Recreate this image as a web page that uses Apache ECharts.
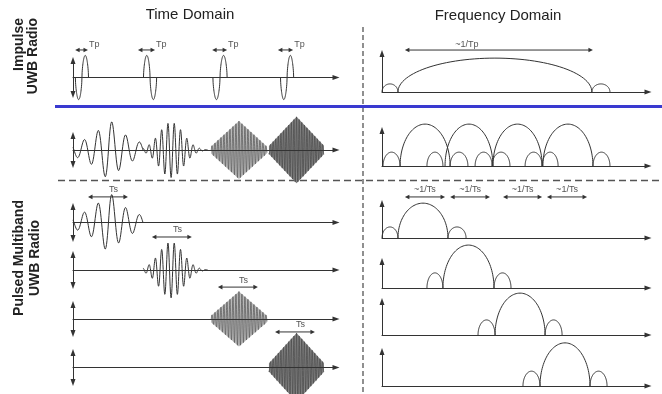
<!DOCTYPE html>
<html>
<head>
<meta charset="utf-8">
<script src="https://cdn.jsdelivr.net/npm/echarts@6/dist/echarts.min.js"></script>
<style>
  html, body { margin: 0; padding: 0; background: #fff; }
  #chart { width: 662px; height: 394px; }
</style>
</head>
<body>
<div id="chart"></div>
<script>
// ---- Impulse UWB: time axis 0–100, amplitude axis −1..1 ----
// monocycles: [centre, half width, amplitude, first lobe sign]
const impulsePulses = [[3.4, 2.5, 1.3, -1], [29.3, 2.5, 1.3, 1], [55.9, 2.7, 1.3, -1], [81.4, 2.5, 1.3, -1]];
const tpSpans = [[0.8, 5.7], [24.7, 31.2], [52.9, 58.6], [77.9, 83.7]];
const tpLevel = 1.62;
// spectrum lobes: [start, end, height]
const impulseSpectrum = [[0, 6.0, 0.21], [6.0, 78.9, 0.88], [78.9, 85.7, 0.21]];
const tpBandSpan = [8.6, 79.3];
const tpBandLevel = 1.09;

// ---- Pulsed multiband UWB ----
// sub-band pulses: [start, end, envelope centre, crest, period, spread]
const subBands = [
  [0, 26.6, 13.7, 14.8, 5.25, 8.4],
  [26.6, 51.3, 37.3, 38.5, 2.4, 4.6],
  [52.5, 73.8, 63.1, 63.1, 1.14, 10.6],
  [74.5, 95.4, 85.0, 85.0, 0.99, 10.5]
];
const combinedAmps = [2.2, 1.9, 2.0, 2.3];
const singleAmps = [1.98, 1.8, 1.9, 2.3];
const tsSpans = [[5.7, 20.9], [30.0, 45.2], [55.1, 70.3], [76.8, 92.0]];
const tsLevels = [1.6, 2.13, 2.2, 2.37];

const combinedMainLobes = [[6.8, 25.6], [23.7, 41.7], [41.7, 60.2], [60.5, 79.3]];
const combinedSideLobes = [[0.4, 6.8], [16.9, 22.9], [25.6, 32.3], [35.0, 41.4], [41.4, 48.1], [53.8, 60.2], [60.2, 66.2], [79.3, 85.7]];
const combinedMainHeight = 1.18;
const combinedSideHeight = 0.39;
const bandSpectra = [
  [[0, 6.0, 0.32], [6.0, 24.8, 1.01], [24.8, 31.6, 0.32]],
  [[16.9, 22.9, 0.57], [22.9, 42.1, 1.62], [42.1, 48.5, 0.57]],
  [[36.1, 42.5, 0.45], [42.5, 61.3, 1.25], [61.3, 67.7, 0.45]],
  [[53.0, 59.4, 0.43], [59.4, 78.2, 1.25], [78.2, 84.6, 0.43]]
];
const invTsSpans = [[8.6, 23.7], [25.6, 40.6], [45.5, 60.2], [62.0, 77.1]];
const invTsLevel = 1.19;

// ---- layout ----
const FONT = 'Arial, "Liberation Sans", sans-serif';
const INK = '#333';
const timeRows = [
  { top: 60.5, height: 34 }, { top: 135.5, height: 29 }, { top: 206.5, height: 32 },
  { top: 254.5, height: 31 }, { top: 304.5, height: 29 }, { top: 352.5, height: 30 }
];
const freqRows = [
  { top: 53.5, height: 38.5 }, { top: 130.5, height: 35.5 }, { top: 203.5, height: 34.5 },
  { top: 261.5, height: 26.5 }, { top: 301.5, height: 33.5 }, { top: 351.5, height: 34.5 }
];
const envelopeKinds = ['exp', 'gauss', 'tri', 'tri'];
const bandFill = [null, null, '#b9b9b9', '#858585'];
const bandStroke = ['#333', '#333', '#555', '#474747'];
const bandWidth = [1, 1, 0.7, 0.7];

const grids = [], xAxes = [], yAxes = [];
const axisLine = (symbol) => ({
  show: true, onZero: true, symbol: symbol, symbolSize: [5, 7],
  lineStyle: { color: INK, width: 1 }
});
const hidden = { axisTick: { show: false }, axisLabel: { show: false }, splitLine: { show: false } };
timeRows.forEach((r, i) => {
  grids.push({ left: 73, width: 263, top: r.top, height: r.height });
  xAxes.push(Object.assign({ gridIndex: i, type: 'value', min: 0, max: 100, z: 5, axisLine: axisLine(['none', 'triangle']) }, hidden));
  yAxes.push(Object.assign({ gridIndex: i, type: 'value', min: -1, max: 1, axisLine: axisLine(['triangle', 'triangle']) }, hidden));
});
freqRows.forEach((r, i) => {
  grids.push({ left: 382, width: 266, top: r.top, height: r.height });
  xAxes.push(Object.assign({ gridIndex: 6 + i, type: 'value', min: 0, max: 100, axisLine: axisLine(['none', 'triangle']) }, hidden));
  yAxes.push(Object.assign({ gridIndex: 6 + i, type: 'value', min: 0, max: 1, axisLine: axisLine(['none', 'triangle']) }, hidden));
});

// ---- mark renderers ----
function renderMonocycle(params, api) {
  const c = api.value(0), hw = api.value(1), a = api.value(2), s = api.value(3);
  const pts = [];
  const n = 80;
  for (let k = 0; k <= n; k++) {
    const t = k / n;
    const v = Math.sin(2 * Math.PI * t);
    const shaped = Math.sign(v) * Math.pow(Math.abs(v), 0.6);
    pts.push(api.coord([c - hw + 2 * hw * t, s * a * shaped]));
  }
  return { type: 'polyline', shape: { points: pts }, style: { stroke: INK, lineWidth: 1, fill: null } };
}

function burstRenderer(band) {
  const kind = envelopeKinds[band];
  return function (params, api) {
    const s = api.value(0), e = api.value(1), c = api.value(2), crest = api.value(3);
    const per = api.value(4), spread = api.value(5), amp = api.value(6);
    const env = (x) => {
      if (kind === 'exp') return Math.exp(-Math.abs(x - c) / spread);
      if (kind === 'gauss') return Math.exp(-0.5 * Math.pow((x - c) / spread, 2));
      return Math.max(0, 1 - 0.88 * Math.abs(x - c) / spread);
    };
    const n = Math.ceil((e - s) / per * 28);
    const wave = [], upper = [], lower = [];
    for (let k = 0; k <= n; k++) {
      const x = s + (e - s) * k / n;
      const en = amp * env(x);
      wave.push(api.coord([x, en * Math.cos(2 * Math.PI * (x - crest) / per)]));
      upper.push(api.coord([x, en]));
      lower.unshift(api.coord([x, -en]));
    }
    const children = [];
    if (bandFill[band]) {
      children.push({ type: 'polygon', shape: { points: upper.concat(lower) }, style: { fill: bandFill[band] } });
    }
    children.push({ type: 'polyline', shape: { points: wave }, style: { stroke: bandStroke[band], lineWidth: bandWidth[band], fill: null } });
    return { type: 'group', children: children };
  };
}

function renderLobe(params, api) {
  const s = api.value(0), e = api.value(1), h = api.value(2);
  const pts = [];
  const n = 60;
  for (let k = 0; k <= n; k++) {
    const th = Math.PI - Math.PI * k / n;
    pts.push(api.coord([(s + e) / 2 + (e - s) / 2 * Math.cos(th), h * Math.sin(th)]));
  }
  return { type: 'polyline', shape: { points: pts }, style: { stroke: INK, lineWidth: 1, fill: null } };
}

// double-headed span arrow with its label; where: 'after' or fraction along the span
function arrowRenderer(text, where, rise) {
  return function (params, api) {
    const a = api.coord([api.value(0), api.value(2)]);
    const b = api.coord([api.value(1), api.value(2)]);
    const y = a[1], L = 4.5, W = 2.3;
    let tx, align;
    if (where === 'after') { tx = b[0] + 1; align = 'left'; }
    else { tx = a[0] + (b[0] - a[0]) * where; align = 'center'; }
    return {
      type: 'group', children: [
        { type: 'line', shape: { x1: a[0] + L - 1, y1: y, x2: b[0] - L + 1, y2: y }, style: { stroke: INK, lineWidth: 1 } },
        { type: 'polygon', shape: { points: [[a[0], y], [a[0] + L, y - W], [a[0] + L, y + W]] }, style: { fill: INK } },
        { type: 'polygon', shape: { points: [[b[0], y], [b[0] - L, y - W], [b[0] - L, y + W]] }, style: { fill: INK } },
        { type: 'text', x: tx, y: y - rise, style: { text: text, fill: '#555', font: '9px ' + FONT, align: align, verticalAlign: 'middle' } }
      ]
    };
  };
}

const series = [];
function add(axis, renderItem, data) {
  series.push({ type: 'custom', xAxisIndex: axis, yAxisIndex: axis, renderItem: renderItem, data: data, silent: true, clip: false });
}

// impulse radio
add(0, renderMonocycle, impulsePulses);
add(0, arrowRenderer('Tp', 'after', 5), tpSpans.map(p => [p[0], p[1], tpLevel]));
add(6, renderLobe, impulseSpectrum);
add(6, arrowRenderer('~1/Tp', 0.33, 6), [[tpBandSpan[0], tpBandSpan[1], tpBandLevel]]);

// all sub-bands together
subBands.forEach((b, i) => add(1, burstRenderer(i), [b.concat([combinedAmps[i]])]));
add(7, renderLobe, combinedMainLobes.map(l => [l[0], l[1], combinedMainHeight]));
add(7, renderLobe, combinedSideLobes.map(l => [l[0], l[1], combinedSideHeight]));

// one sub-band per row
subBands.forEach((b, i) => {
  add(2 + i, burstRenderer(i), [b.concat([singleAmps[i]])]);
  add(2 + i, arrowRenderer('Ts', 0.64, 7), [[tsSpans[i][0], tsSpans[i][1], tsLevels[i]]]);
  add(8 + i, renderLobe, bandSpectra[i]);
});
add(8, arrowRenderer('~1/Ts', 0.5, 7), invTsSpans.map(p => [p[0], p[1], invTsLevel]));

const chart = echarts.init(document.getElementById('chart'), null, { renderer: 'canvas' });
chart.setOption({
  animation: false,
  backgroundColor: '#fff',
  grid: grids,
  xAxis: xAxes,
  yAxis: yAxes,
  series: series,
  graphic: [
    { type: 'text', x: 190, y: 15, style: { text: 'Time Domain', font: '15px ' + FONT, fill: '#222', align: 'center', verticalAlign: 'middle' } },
    { type: 'text', x: 498, y: 16, style: { text: 'Frequency Domain', font: '15px ' + FONT, fill: '#222', align: 'center', verticalAlign: 'middle' } },
    { type: 'text', x: 19, y: 18, rotation: Math.PI / 2, style: { text: 'Impulse', font: 'bold 14px ' + FONT, fill: '#222', align: 'right', verticalAlign: 'middle' } },
    { type: 'text', x: 33, y: 18, rotation: Math.PI / 2, style: { text: 'UWB Radio', font: 'bold 14px ' + FONT, fill: '#222', align: 'right', verticalAlign: 'middle' } },
    { type: 'text', x: 19, y: 258, rotation: Math.PI / 2, style: { text: 'Pulsed Multiband', font: 'bold 14px ' + FONT, fill: '#222', align: 'center', verticalAlign: 'middle' } },
    { type: 'text', x: 35, y: 258, rotation: Math.PI / 2, style: { text: 'UWB Radio', font: 'bold 14px ' + FONT, fill: '#222', align: 'center', verticalAlign: 'middle' } },
    { type: 'line', shape: { x1: 363, y1: 27, x2: 363, y2: 394 }, style: { stroke: '#555', lineWidth: 1.3, lineDash: [5, 3] } },
    { type: 'line', shape: { x1: 55, y1: 106.5, x2: 662, y2: 106.5 }, style: { stroke: '#3a3ad0', lineWidth: 3 } },
    { type: 'line', shape: { x1: 58, y1: 180.5, x2: 662, y2: 180.5 }, style: { stroke: '#555', lineWidth: 1.3, lineDash: [7, 4] } }
  ]
});
</script>
</body>
</html>
